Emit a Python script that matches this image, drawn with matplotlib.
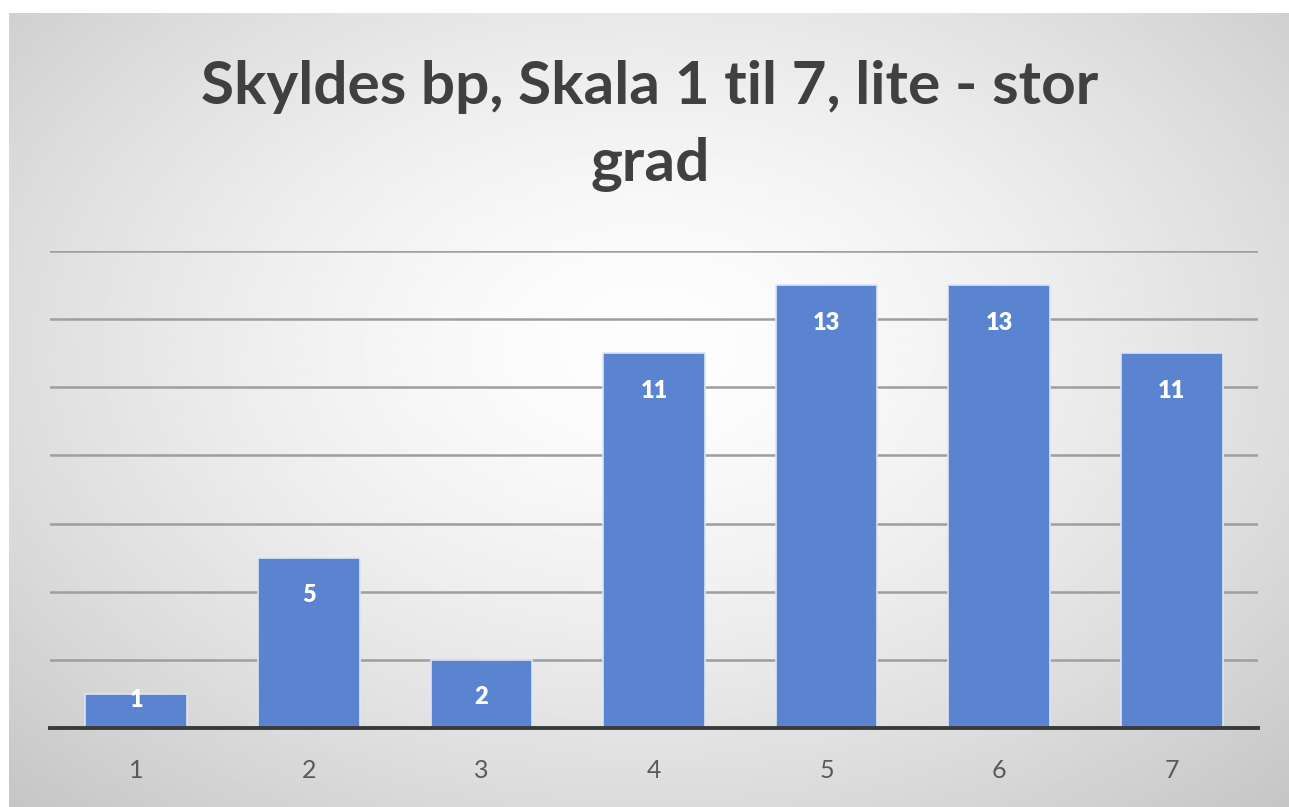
import numpy as np
import matplotlib
matplotlib.use("Agg")
import matplotlib.pyplot as plt

plt.rcParams["font.family"] = ["Lato", "DejaVu Sans"]

categories = ["1", "2", "3", "4", "5", "6", "7"]
counts = [1, 5, 2, 11, 13, 13, 11]
title = "Skyldes bp, Skala 1 til 7, lite - stor\ngrad"

W, H = 1289, 807
fig = plt.figure(figsize=(W / 100, H / 100), dpi=100)

# radial grey background (Excel "gradient" chart style)
bg = fig.add_axes([9 / W, 0, 1 - 9 / W, 1 - 13 / H])
yy, xx = np.mgrid[0:1:300j, 0:1:480j]
r = np.sqrt(((xx - 0.5) / 0.72) ** 2 + ((yy - 0.42) / 0.8) ** 2)
shade = np.clip(0.995 - 0.22 * r ** 1.5, 0, 1)
bg.imshow(shade, cmap="gray", vmin=0, vmax=1, aspect="auto", extent=[0, 1, 0, 1])
bg.axis("off")

ax = fig.add_axes([50 / W, (H - 728) / H, (1258 - 50) / W, (728 - 251) / H])
ax.patch.set_alpha(0)
x = np.arange(len(categories))
bars = ax.bar(x, counts, width=0.59, color="#5B84D0", edgecolor="#dce6f5",
              linewidth=1.2, zorder=3)
for b, v in zip(bars, counts):
    ax.text(b.get_x() + b.get_width() / 2, max(v - 1.1, 0.82), str(v), ha="center",
            va="center", color="white", fontsize=17, fontweight="heavy", zorder=4)

ax.set_xlim(-0.5, len(categories) - 0.5)
ax.set_ylim(0, 14)
ax.set_yticks(np.arange(2, 15, 2))
ax.yaxis.grid(True, color="#9e9e9e", linewidth=1.8, zorder=0)
ax.tick_params(axis="y", left=False, labelleft=False)
ax.set_xticks(x)
ax.set_xticklabels(categories, fontsize=18, color="#595959")
ax.tick_params(axis="x", length=0, pad=22)
for s in ["top", "right", "left"]:
    ax.spines[s].set_visible(False)
ax.spines["bottom"].set_color("#3a3a3a")
ax.spines["bottom"].set_linewidth(2.8)
ax.spines["bottom"].set_zorder(5)

fig.text(650 / W, 1 - 126 / H, title, ha="center", va="center", fontsize=43.5,
         fontweight="bold", color="#404040", linespacing=1.5)

fig.savefig("out.png", dpi=100)
